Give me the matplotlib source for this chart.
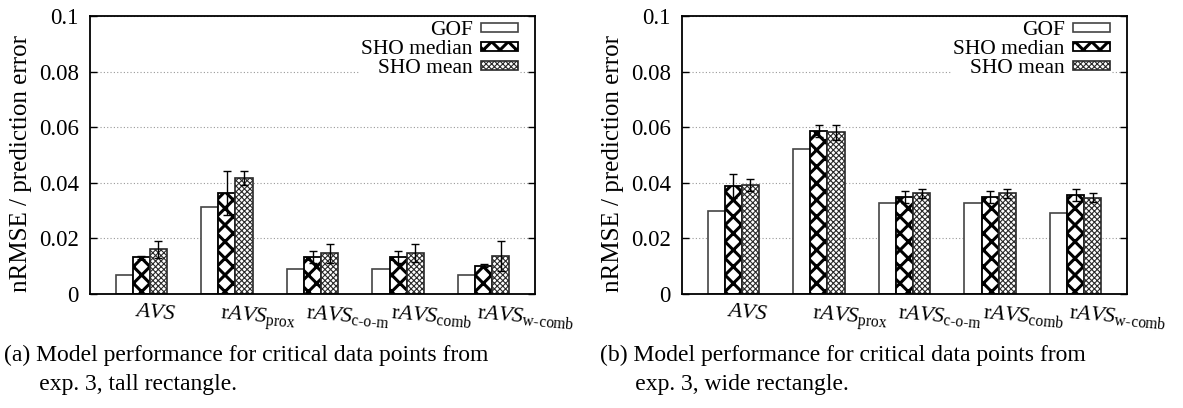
import numpy as np
import matplotlib
matplotlib.use('Agg')
import matplotlib.pyplot as plt
import matplotlib.transforms as mtransforms

plt.rcParams['font.family'] = ['Liberation Serif', 'DejaVu Serif']
plt.rcParams['mathtext.fontset'] = 'custom'
plt.rcParams['mathtext.rm'] = 'Liberation Serif'
plt.rcParams['mathtext.it'] = 'Liberation Serif:italic'

# data
categories = [r'$\mathit{AVS}$',
              r'r$\mathit{AVS}_{\mathrm{prox}}$',
              r'r$\mathit{AVS}_{\mathrm{c\text{-}o\text{-}m}}$',
              r'r$\mathit{AVS}_{\mathrm{comb}}$',
              r'r$\mathit{AVS}_{\mathrm{w\text{-}comb}}$']
series_names = ['GOF', 'SHO median', 'SHO mean']
ytick_vals = [0, 0.02, 0.04, 0.06, 0.08, 0.1]
ytick_labels = ['0', '0.02', '0.04', '0.06', '0.08', '0.1']

# (a) tall rectangle
gof_a = [0.0068, 0.0314, 0.0089, 0.0089, 0.0068]
med_a = [0.0132, 0.0362, 0.0134, 0.0133, 0.0102]
med_err_a = [0.0006, 0.0079, 0.0021, 0.0022, 0.0005]
mean_a = [0.0161, 0.0417, 0.0146, 0.0147, 0.0136]
mean_err_a = [0.0031, 0.0024, 0.0033, 0.0033, 0.0054]

# (b) wide rectangle
gof_b = [0.0300, 0.0523, 0.0326, 0.0326, 0.0293]
med_b = [0.0388, 0.0585, 0.0348, 0.0348, 0.0355]
med_err_b = [0.0043, 0.0022, 0.0021, 0.0022, 0.0022]
mean_b = [0.0393, 0.0582, 0.0362, 0.0362, 0.0347]
mean_err_b = [0.0022, 0.0027, 0.0017, 0.0017, 0.0017]

captions = ['(a) Model performance for critical data points from\n      exp. 3, tall rectangle.',
            '(b) Model performance for critical data points from\n      exp. 3, wide rectangle.']

FS = 16.5
W = 1183
H = 408
fig = plt.figure(figsize=(W / 100, H / 100), dpi=100)

MED_LW = 2.2
MEAN_LW = 0.8


def hatch_lw(bars, lw):
    for b in bars:
        if hasattr(b, 'set_hatch_linewidth'):
            b.set_hatch_linewidth(lw)


def panel(left_px, gof, med, med_err, mean, mean_err, caption, cap_x):
    ax = fig.add_axes([left_px / W, (H - 294) / H, 445 / W, 278 / H])
    x = np.arange(len(categories))
    bw = 0.2

    ax.bar(x - bw, gof, bw, color='white', edgecolor='#444444', linewidth=1.2,
           label=series_names[0], zorder=2)
    b2 = ax.bar(x, med, bw, color='white', edgecolor='black', linewidth=1.3,
                hatch='xx', label=series_names[1], zorder=2)
    hatch_lw(b2, MED_LW)
    b3 = ax.bar(x + bw, mean, bw, color='white', edgecolor='#2a2a2a', linewidth=1.2,
                hatch='xxxxxx', label=series_names[2], zorder=2)
    hatch_lw(b3, MEAN_LW)

    ax.errorbar(x, med, yerr=med_err, fmt='none', ecolor='black', elinewidth=1,
                capsize=3, capthick=1, zorder=3)
    ax.errorbar(x + bw, mean, yerr=mean_err, fmt='none', ecolor='black', elinewidth=1,
                capsize=3, capthick=1, zorder=3)

    ax.set_xlim(-0.6, 4.6)
    ax.set_ylim(0, 0.1)
    ax.set_yticks(ytick_vals)
    ax.set_yticklabels(ytick_labels, fontsize=FS)
    ax.yaxis.grid(True, linestyle=(0, (1, 2)), color='#999999', linewidth=0.8, zorder=0)
    ax.set_axisbelow(True)
    ax.tick_params(axis='y', direction='in', length=5, width=1, right=True, pad=8)
    ax.tick_params(axis='x', length=0, pad=6)
    ax.set_xticks(x)
    ax.set_xticklabels(categories, fontsize=16, rotation=-5, ha='left',
                       rotation_mode='anchor', va='top')
    shift = mtransforms.ScaledTranslation(-6 / 100, 0, fig.dpi_scale_trans)
    for lab in ax.get_xticklabels():
        lab.set_transform(lab.get_transform() + shift)
    for s in ax.spines.values():
        s.set_linewidth(1.3)

    ax.set_ylabel('nRMSE / prediction error', fontsize=18)
    ax.yaxis.set_label_coords(-0.13, 0.47)

    leg = ax.legend(loc='upper right', bbox_to_anchor=(1 - 15 / 445, 1 - 3 / 278),
                    markerfirst=False, fontsize=15.5, frameon=True, framealpha=1,
                    edgecolor='none', handlelength=1.7, handleheight=0.3,
                    labelspacing=0.0, borderpad=0.1, borderaxespad=0,
                    handletextpad=0.4, fancybox=False)
    for h, lw in zip(leg.legend_handles, [None, MED_LW, MEAN_LW]):
        if lw is not None and hasattr(h, 'set_hatch_linewidth'):
            h.set_hatch_linewidth(lw)

    fig.text(cap_x / W, 1 - 345 / H, caption, fontsize=17, va='top', ha='left',
             linespacing=1.5)
    return ax


panel(90, gof_a, med_a, med_err_a, mean_a, mean_err_a, captions[0], 4)
panel(682, gof_b, med_b, med_err_b, mean_b, mean_err_b, captions[1], 600)

fig.savefig('out.png', dpi=100)
